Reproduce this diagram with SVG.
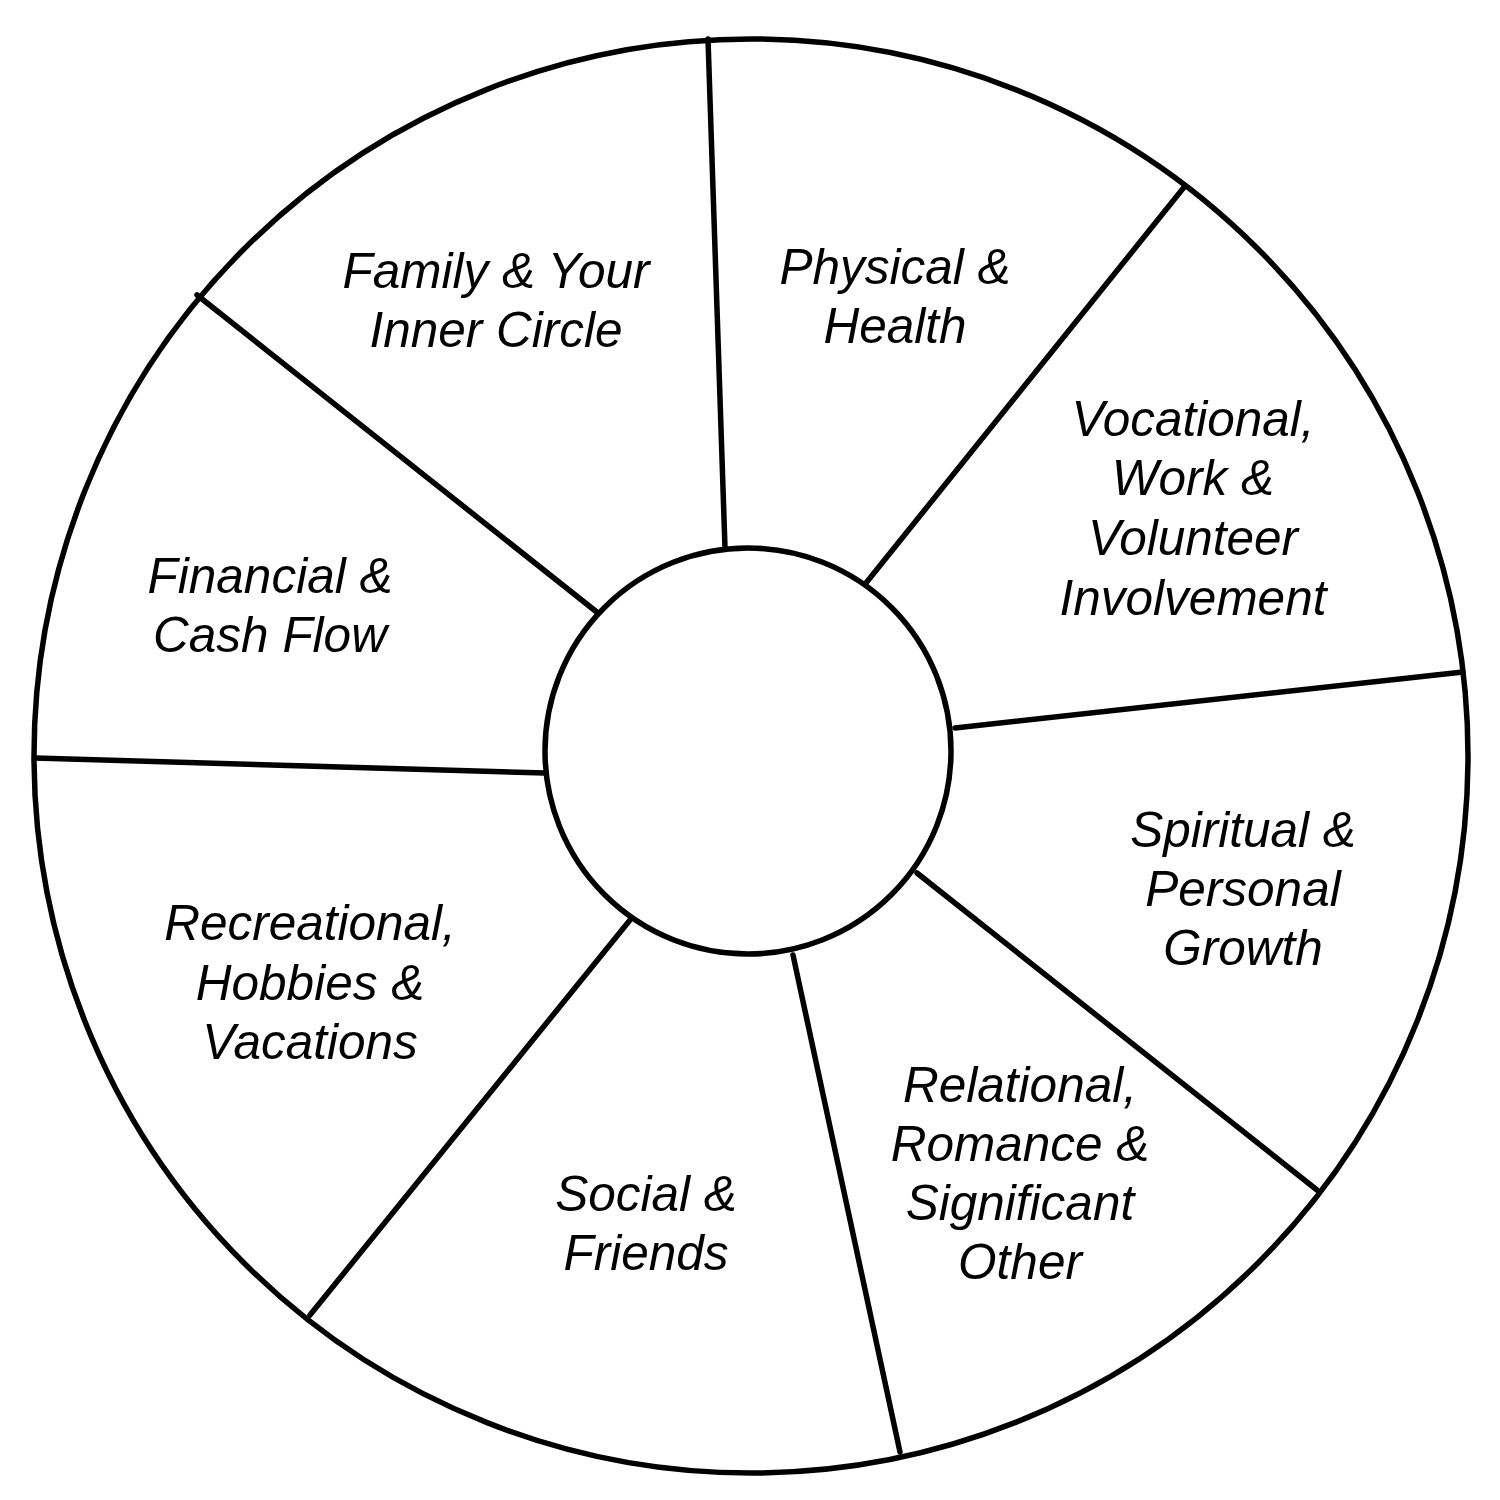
<svg xmlns="http://www.w3.org/2000/svg" width="1500" height="1500" viewBox="0 0 1500 1500">
<style>
.ring{fill:none;stroke:#000;stroke-width:5.5}
.spoke{stroke:#000;stroke-width:5.5;stroke-linecap:round}
.lbl{font-family:"Liberation Sans",Arial,sans-serif;font-style:italic;font-size:49.5px;fill:#000;text-anchor:middle}
</style>
<rect width="1500" height="1500" fill="#fff"/>
<g id="wheel">
<circle class="ring" cx="751" cy="756" r="717"/>
<circle class="ring" cx="748" cy="751" r="203"/>
</g>
<g id="connectors">
<line class="spoke" x1="708" y1="39" x2="725" y2="548"/>
<line class="spoke" x1="1185" y1="186" x2="866" y2="583"/>
<line class="spoke" x1="1463" y1="672" x2="955" y2="728"/>
<line class="spoke" x1="1317" y1="1190" x2="917" y2="873"/>
<line class="spoke" x1="900" y1="1452" x2="793" y2="955"/>
<line class="spoke" x1="310" y1="1315" x2="630" y2="920"/>
<line class="spoke" x1="35" y1="758" x2="545" y2="773"/>
<line class="spoke" x1="197" y1="295" x2="598" y2="613"/>
</g>
<g id="family"><text class="lbl" x="496" y="288">Family &amp; Your</text><text class="lbl" x="496" y="347">Inner Circle</text></g>
<g id="physical"><text class="lbl" x="895" y="284">Physical &amp;</text><text class="lbl" x="895" y="343">Health</text></g>
<g id="vocational"><text class="lbl" x="1193" y="436">Vocational,</text><text class="lbl" x="1193" y="495">Work &amp;</text><text class="lbl" x="1193" y="555">Volunteer</text><text class="lbl" x="1193" y="615">Involvement</text></g>
<g id="financial"><text class="lbl" x="270" y="593">Financial &amp;</text><text class="lbl" x="270" y="652">Cash Flow</text></g>
<g id="spiritual"><text class="lbl" x="1243" y="847">Spiritual &amp;</text><text class="lbl" x="1243" y="906">Personal</text><text class="lbl" x="1243" y="965">Growth</text></g>
<g id="recreational"><text class="lbl" x="310" y="940">Recreational,</text><text class="lbl" x="310" y="1000">Hobbies &amp;</text><text class="lbl" x="310" y="1059">Vacations</text></g>
<g id="relational"><text class="lbl" x="1020" y="1102">Relational,</text><text class="lbl" x="1020" y="1161">Romance &amp;</text><text class="lbl" x="1020" y="1220">Significant</text><text class="lbl" x="1020" y="1279">Other</text></g>
<g id="social"><text class="lbl" x="646" y="1211">Social &amp;</text><text class="lbl" x="646" y="1270">Friends</text></g>
</svg>
